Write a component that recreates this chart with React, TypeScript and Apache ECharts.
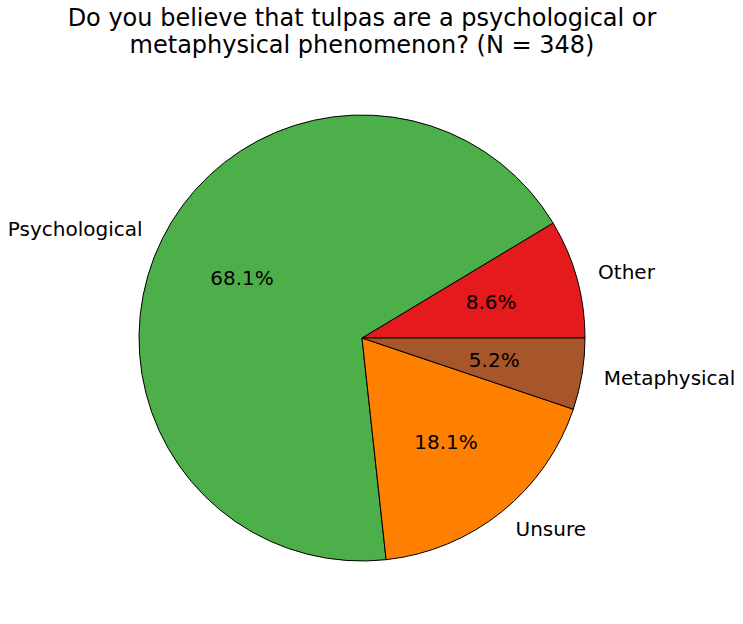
import React, { useEffect, useRef } from "react";
import * as echarts from "echarts";

const categories = ["Other", "Psychological", "Unsure", "Metaphysical"];
const counts = [30, 237, 63, 18];
const colors = ["#e41a1c", "#4daf4a", "#ff7f00", "#a65628"];
const titleText = "Do you believe that tulpas are a psychological or\nmetaphysical phenomenon? (N = 348)";

export default function App() {
  const ref = useRef<HTMLDivElement>(null);
  useEffect(() => {
    if (!ref.current) return;
    const chart = echarts.init(ref.current, null, { renderer: "svg" });
    const total = counts.reduce((a, b) => a + b, 0);
    const data = categories.map((name, i) => ({
      name,
      value: counts[i],
      itemStyle: { color: colors[i] },
    }));
    const font = "'DejaVu Sans', sans-serif";
    chart.setOption({
      animation: false,
      backgroundColor: "#ffffff",
      title: {
        text: titleText,
        left: 362,
        top: 4,
        padding: 0,
        textAlign: "center",
        textStyle: {
          fontFamily: font,
          fontSize: 24,
          fontWeight: "normal",
          color: "#000",
          lineHeight: 27,
        },
      },
      series: [
        {
          type: "pie",
          center: [362, 338],
          radius: 223,
          startAngle: 0,
          clockwise: false,
          avoidLabelOverlap: false,
          silent: true,
          data,
          itemStyle: { borderColor: "#000", borderWidth: 1 },
          label: {
            show: true,
            position: "outside",
            fontFamily: font,
            fontSize: 20,
            color: "#000",
            bleedMargin: 0,
            distanceToLabelLine: 0,
          },
          labelLine: { show: false, length: 22, length2: 0 },
        },
        {
          type: "pie",
          center: [362, 338],
          radius: 262,
          startAngle: 0,
          clockwise: false,
          avoidLabelOverlap: false,
          silent: true,
          z: 3,
          data: categories.map((name, i) => ({ name, value: counts[i] })),
          itemStyle: { color: "rgba(0,0,0,0)", borderWidth: 0 },
          label: {
            show: true,
            position: "inside",
            fontFamily: font,
            fontSize: 20,
            color: "#000",
            formatter: (p: any) => ((p.value / total) * 100).toFixed(1) + "%",
          },
          labelLine: { show: false },
        },
      ],
    });
    return () => chart.dispose();
  }, []);
  return (
    <div
      ref={ref}
      style={{ position: "absolute", left: 0, top: 0, width: 743, height: 624 }}
    />
  );
}
